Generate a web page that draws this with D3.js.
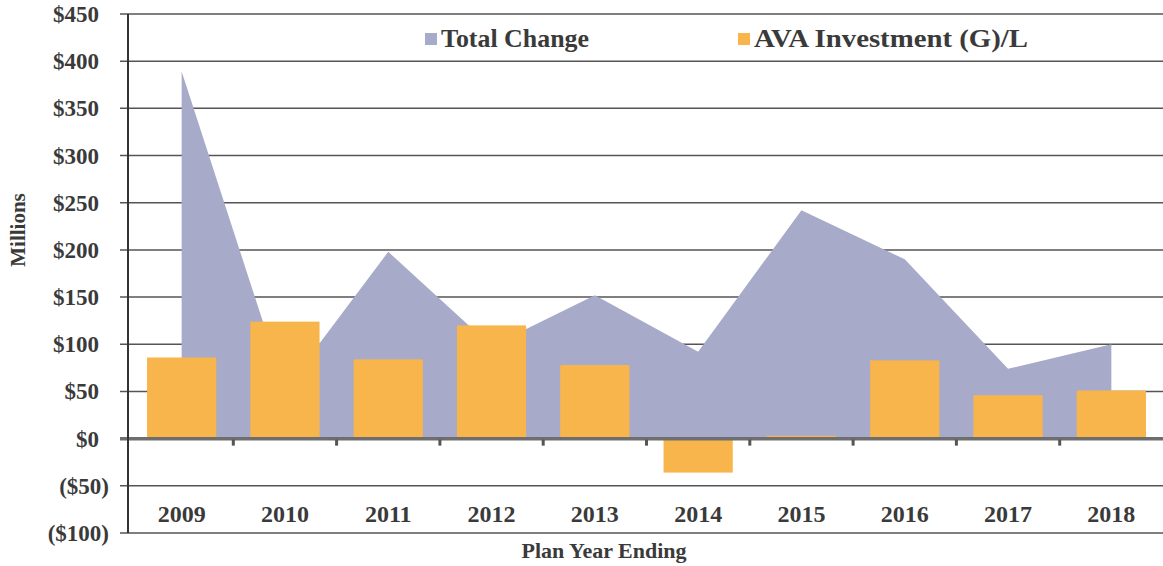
<!DOCTYPE html>
<meta charset="utf-8">
<style>
  body { margin: 0; background: #ffffff; }
  svg text { font-family: "Liberation Serif", "Times New Roman", serif; font-weight: bold; fill: #3a3a3a; }
</style>
<body>
<svg id="chart" width="1163" height="566"></svg>
<script src="https://cdnjs.cloudflare.com/ajax/libs/d3/7.8.5/d3.min.js"></script>
<script>
// data (millions)
var years = ["2009", "2010", "2011", "2012", "2013", "2014", "2015", "2016", "2017", "2018"];
var totalChange = [389, 52, 198, 98, 152, 92, 242, 190, 74, 100];
var avaInvestment = [86, 124, 84, 120, 78, -36, 3, 83, 46, 51];
var yTicks = [-100, -50, 0, 50, 100, 150, 200, 250, 300, 350, 400, 450];
var seriesNames = ["Total Change", "AVA Investment (G)/L"];

var areaColor = "#a7aac8";
var barColor = "#f8b54b";

var svg = d3.select("#chart");
// plot box (note: "top" is reserved on window, so use a margin object)
var plot = {left: 130, right: 1163, top: 14, bottom: 533};

var x = d3.scaleBand().domain(years).range([plot.left, plot.right]).padding(0);
var y = d3.scaleLinear().domain([-100, 450]).range([plot.bottom, plot.top]);

// gridlines
svg.append("g")
  .selectAll("line")
  .data(yTicks)
  .enter().append("line")
  .attr("x1", plot.left - 10)
  .attr("x2", plot.right)
  .attr("y1", function(d) { return y(d); })
  .attr("y2", function(d) { return y(d); })
  .attr("stroke", "#555")
  .attr("stroke-width", 1.5);

// area for total change
var pts = years.map(function(k, i) { return {key: k, v: totalChange[i]}; });
var area = d3.area()
  .x(function(d) { return x(d.key) + x.bandwidth() / 2; })
  .y0(y(0))
  .y1(function(d) { return y(d.v); });

svg.append("path")
  .datum(pts)
  .attr("d", area)
  .attr("fill", areaColor);

// bars for AVA investment
var bw = x.bandwidth() * 0.67;
svg.append("g")
  .selectAll("rect")
  .data(years.map(function(k, i) { return {key: k, v: avaInvestment[i]}; }))
  .enter().append("rect")
  .attr("x", function(d) { return x(d.key) + (x.bandwidth() - bw) / 2; })
  .attr("width", bw)
  .attr("y", function(d) { return y(Math.max(0, d.v)); })
  .attr("height", function(d) { return Math.abs(y(d.v) - y(0)); })
  .attr("fill", barColor);

// zero line with category ticks
svg.append("line")
  .attr("x1", plot.left - 10).attr("x2", plot.right)
  .attr("y1", y(0)).attr("y2", y(0))
  .attr("stroke", "#6e6e6e")
  .attr("stroke-width", 3.5);

svg.append("g")
  .selectAll("rect")
  .data(years.slice(1))
  .enter().append("rect")
  .attr("x", function(d) { return x(d) - 1.5; })
  .attr("y", y(0) + 1)
  .attr("width", 3)
  .attr("height", 6)
  .attr("fill", "#555");

// y axis
svg.append("line")
  .attr("x1", plot.left - 2).attr("x2", plot.left - 2)
  .attr("y1", plot.top).attr("y2", plot.bottom)
  .attr("stroke", "#333")
  .attr("stroke-width", 2);

svg.append("g")
  .selectAll("text")
  .data(yTicks)
  .enter().append("text")
  .attr("x", function(d) { return d < 0 ? 109 : 99; })
  .attr("y", function(d) { return y(d) + 8; })
  .attr("text-anchor", "end")
  .style("font-size", "23px")
  .text(function(d) { return d < 0 ? "($" + (-d) + ")" : "$" + d; });

// x labels
svg.append("g")
  .selectAll("text")
  .data(years)
  .enter().append("text")
  .attr("x", function(d) { return x(d) + x.bandwidth() / 2; })
  .attr("y", 522)
  .attr("text-anchor", "middle")
  .style("font-size", "24px")
  .text(function(d) { return d; });

// axis titles
svg.append("text")
  .attr("transform", "translate(25,230) rotate(-90)")
  .attr("text-anchor", "middle")
  .style("font-size", "21px")
  .text("Millions");

svg.append("text")
  .attr("x", 604).attr("y", 558)
  .attr("text-anchor", "middle")
  .style("font-size", "22px")
  .text("Plan Year Ending");

// legend
var legendX = [425, 738];
var legendW = [148, 274];
var legendColors = [areaColor, barColor];
var lg = svg.append("g")
  .selectAll("g")
  .data(seriesNames)
  .enter().append("g")
  .attr("transform", function(d, i) { return "translate(" + legendX[i] + ",0)"; });

lg.append("rect")
  .attr("x", 0).attr("y", 33)
  .attr("width", 12).attr("height", 12)
  .attr("fill", function(d, i) { return legendColors[i]; });

lg.append("text")
  .attr("x", 16).attr("y", 47)
  .attr("textLength", function(d, i) { return legendW[i]; })
  .attr("lengthAdjust", "spacingAndGlyphs")
  .style("font-size", "25px")
  .text(function(d) { return d; });
</script>
</body>
